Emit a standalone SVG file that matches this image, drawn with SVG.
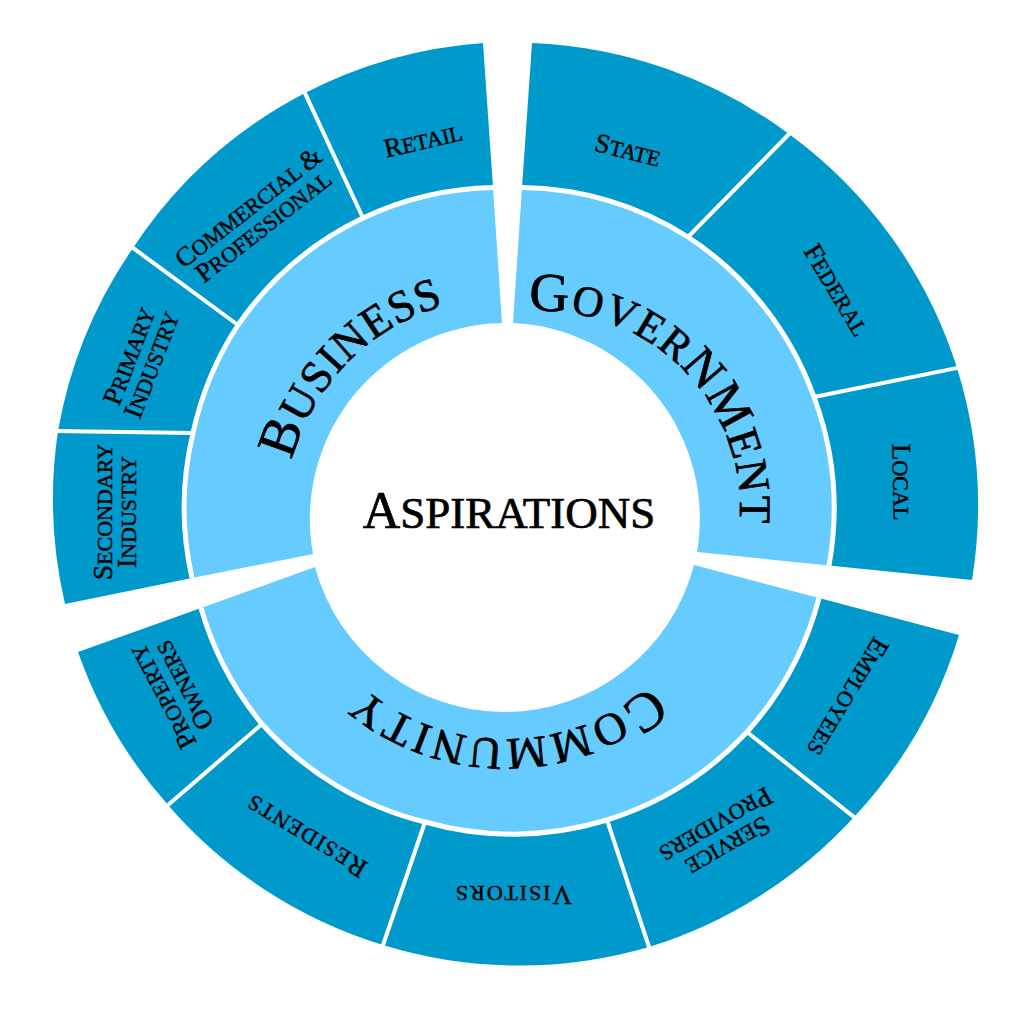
<svg xmlns="http://www.w3.org/2000/svg" width="1024" height="1024" viewBox="0 0 1024 1024">
<style>
.outer{fill:#0099CC}
.inner{fill:#66CCFF}
.sep{fill:none;stroke:#fff;stroke-width:4}
.ring{fill:none;stroke:#fff;stroke-width:5}
text{font-family:"Liberation Serif","Times New Roman",serif;fill:#000;text-anchor:middle;stroke:#000}
.lbl{font-size:22px;stroke-width:0.45}
.lbl .c{font-size:27px}
.big{font-size:45px;stroke-width:0.7}
.big .c{font-size:55px}
</style>
<defs>
<path id="circBC" d="M284,518 A221,221 0 1 1 726,518 A221,221 0 1 1 284,518"/>
<path id="circG" d="M344,509 A198,198 0 1 1 740,509 A198,198 0 1 1 344,509"/>
</defs>
<rect width="1024" height="1024" fill="#fff"/>

<g id="business">
<path class="inner" d="M192,578 A320,320 0 0 1 193,433 A320,320 0 0 1 238,325 A320,320 0 0 1 363,218 A320,320 0 0 1 493,187.5 L502,323 A196,196 0 0 0 313,554 Z"/>
<text class="big" letter-spacing="1"><textPath href="#circBC" startOffset="12.4%"><tspan class="c">B</tspan>USINESS</textPath></text>
</g>
<g id="secondary-industry">
<path class="outer" d="M65,604 A462,462 0 0 1 58,431 L193,433 A320,320 0 0 0 192,578 Z"/>
<text class="lbl" transform="translate(117,512) rotate(-90)"><tspan x="0" y="-5"><tspan class="c">S</tspan>ECONDARY</tspan><tspan x="0" y="19"><tspan class="c">I</tspan>NDUSTRY</tspan></text>
</g>
<g id="primary-industry">
<path class="outer" d="M58,431 A462,462 0 0 1 133,248 L238,325 A320,320 0 0 0 193,433 Z"/>
<text class="lbl" transform="translate(142,361) rotate(-69)"><tspan x="0" y="-5"><tspan class="c">P</tspan>RIMARY</tspan><tspan x="0" y="19"><tspan class="c">I</tspan>NDUSTRY</tspan></text>
</g>
<g id="commercial-professional">
<path class="outer" d="M133,248 A462,462 0 0 1 305,93 L363,218 A320,320 0 0 0 238,325 Z"/>
<text class="lbl" transform="translate(257,218) rotate(-38)"><tspan x="0" y="-5"><tspan class="c">C</tspan>OMMERCIAL <tspan class="c">&amp;</tspan></tspan><tspan x="0" y="19"><tspan class="c">P</tspan>ROFESSIONAL</tspan></text>
</g>
<g id="retail">
<path class="outer" d="M305,93 A462,462 0 0 1 483,43 L493,187.5 A320,320 0 0 0 363,218 Z"/>
<text class="lbl" transform="translate(423,140) rotate(-13)"><tspan x="0" y="9"><tspan class="c">R</tspan>ETAIL</tspan></text>
</g>

<g id="government">
<path class="inner" d="M522,187.5 A320,320 0 0 1 688,237 A320,320 0 0 1 814,397 A320,320 0 0 1 829,565.5 L697,552 A196,196 0 0 0 513,323 Z"/>
<text class="big" letter-spacing="1.5"><textPath href="#circG" startOffset="37.6%"><tspan class="c">G</tspan><tspan style="font-size:43px">OVER</tspan><tspan style="font-size:50px">NM</tspan>ENT</textPath></text>
</g>
<g id="state">
<path class="outer" d="M532,43 A462,462 0 0 1 789,134 L688,237 A320,320 0 0 0 522,187.5 Z"/>
<text class="lbl" transform="translate(628,150) rotate(14)"><tspan x="0" y="9"><tspan class="c">S</tspan>TATE</tspan></text>
</g>
<g id="federal">
<path class="outer" d="M789,134 A462,462 0 0 1 957,368 L814,397 A320,320 0 0 0 688,237 Z"/>
<text class="lbl" transform="translate(837,290) rotate(59)"><tspan x="0" y="9"><tspan class="c">F</tspan>EDERAL</tspan></text>
</g>
<g id="local">
<path class="outer" d="M957,368 A462,462 0 0 1 972,580 L829,565.5 A320,320 0 0 0 814,397 Z"/>
<text class="lbl" transform="translate(902,482) rotate(89)"><tspan x="0" y="9"><tspan class="c">L</tspan>OCAL</tspan></text>
</g>

<g id="community">
<path class="inner" d="M819,598 A322,322 0 0 1 747,732 A322,322 0 0 1 607,820 A322,322 0 0 1 425,822 A322,322 0 0 1 262,724 A322,322 0 0 1 201,608 L315,567 A196,196 0 0 0 694,565 Z"/>
<text class="big" letter-spacing="2.6"><textPath href="#circBC" startOffset="74.9%"><tspan class="c">C</tspan>OMMUNITY</textPath></text>
</g>
<g id="employees">
<path class="outer" d="M959,635 A462,462 0 0 1 854,817 L747,732 A322,322 0 0 0 819,598 Z"/>
<text class="lbl" transform="translate(848,697) rotate(121)"><tspan x="0" y="9"><tspan class="c">E</tspan>MPLOYEES</tspan></text>
</g>
<g id="service-providers">
<path class="outer" d="M854,817 A462,462 0 0 1 649,947 L607,820 A322,322 0 0 0 747,732 Z"/>
<text class="lbl" transform="translate(721,834) rotate(150)"><tspan x="0" y="-5"><tspan class="c">S</tspan>ERVICE</tspan><tspan x="0" y="19"><tspan class="c">P</tspan>ROVIDERS</tspan></text>
</g>
<g id="visitors">
<path class="outer" d="M649,947 A462,462 0 0 1 383,945 L425,822 A322,322 0 0 0 607,820 Z"/>
<text class="lbl" letter-spacing="2" transform="translate(513,895) rotate(180)"><tspan x="0" y="9"><tspan class="c">V</tspan>ISITORS</tspan></text>
</g>
<g id="residents">
<path class="outer" d="M383,945 A462,462 0 0 1 168,805 L262,724 A322,322 0 0 0 425,822 Z"/>
<text class="lbl" letter-spacing="1.6" transform="translate(306,836) rotate(211)"><tspan x="0" y="9"><tspan class="c">R</tspan>ESIDENTS</tspan></text>
</g>
<g id="property-owners">
<path class="outer" d="M168,805 A462,462 0 0 1 78,652 L201,608 A322,322 0 0 0 262,724 Z"/>
<text class="lbl" transform="translate(175,690) rotate(242)"><tspan x="0" y="-5"><tspan class="c">P</tspan>ROPERTY</tspan><tspan x="0" y="19"><tspan class="c">O</tspan>WNERS</tspan></text>
</g>

<g id="separators">
<path class="ring" d="M192,578 A320,320 0 0 1 193,433 A320,320 0 0 1 238,325 A320,320 0 0 1 363,218 A320,320 0 0 1 493,187.5"/>
<path class="ring" d="M522,187.5 A320,320 0 0 1 688,237 A320,320 0 0 1 814,397 A320,320 0 0 1 829,565.5"/>
<path class="ring" d="M819,598 A322,322 0 0 1 747,732 A322,322 0 0 1 607,820 A322,322 0 0 1 425,822 A322,322 0 0 1 262,724 A322,322 0 0 1 201,608"/>
<path class="sep" d="M55,431 L193,433 M130.6,246.2 L238,325 M303.7,90.3 L363,218 M791,132 L688,237 M960,367.4 L814,397 M856.3,818.9 L747,732 M650,950 L607,820 M382,948 L425,822 M165.7,807 L262,724"/>
</g>

<g id="aspirations">
<text x="509" y="528" stroke-width="0.7"><tspan style="font-size:52px">A</tspan><tspan style="font-size:45px">SPIRATIONS</tspan></text>
</g>
</svg>
